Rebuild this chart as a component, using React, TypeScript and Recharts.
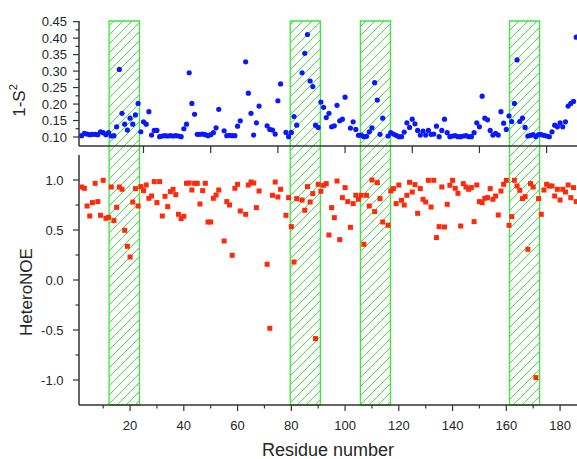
import React from "react";
import { ScatterChart, Scatter, XAxis, YAxis, ReferenceArea, Label } from "recharts";

// ── data ────────────────────────────────────────────────────────────────────
// order parameter panel (1-S²)
const S2_RES = [
  2, 3, 4, 5, 6, 7, 8, 9, 10, 11, 12, 13, 14, 15, 16, 17, 18, 19, 20, 21, 22, 23, 24, 25, 26, 27, 28, 29, 30,
  31, 32, 33, 34, 35, 36, 37, 38, 39, 40, 41, 42, 43, 44, 45, 46, 47, 48, 49, 50, 51, 52, 53, 55, 56, 57, 58,
  59, 60, 61, 63, 64, 65, 66, 67, 68, 71, 72, 73, 74, 75, 76, 78, 79, 80, 81, 82, 84, 85, 86, 87, 88, 89, 90,
  91, 92, 93, 94, 95, 96, 97, 98, 99, 100, 102, 103, 104, 105, 106, 107, 108, 109, 110, 111, 112, 113, 114,
  116, 117, 118, 119, 120, 121, 122, 123, 124, 125, 126, 127, 128, 129, 130, 131, 132, 133, 134, 135, 136,
  137, 138, 139, 140, 141, 142, 143, 144, 145, 146, 147, 148, 149, 150, 151, 152, 153, 154, 155, 156, 157,
  158, 159, 160, 161, 162, 163, 164, 165, 166, 167, 168, 169, 170, 171, 172, 173, 174, 175, 176, 177, 178,
  179, 180, 181, 182, 183, 184, 185, 186,
];
const S2_VAL = [
  0.104, 0.111, 0.109, 0.107, 0.108, 0.108, 0.107, 0.116, 0.113, 0.107, 0.113, 0.103, 0.104, 0.131, 0.305,
  0.172, 0.139, 0.121, 0.157, 0.139, 0.167, 0.202, 0.116, 0.146, 0.139, 0.177, 0.106, 0.12, 0.12, 0.101,
  0.103, 0.104, 0.103, 0.104, 0.103, 0.104, 0.103, 0.101, 0.125, 0.139, 0.295, 0.202, 0.169, 0.108, 0.108,
  0.109, 0.107, 0.104, 0.107, 0.113, 0.128, 0.184, 0.119, 0.104, 0.105, 0.104, 0.104, 0.133, 0.149, 0.328,
  0.233, 0.172, 0.106, 0.143, 0.194, 0.134, 0.123, 0.121, 0.109, 0.21, 0.261, 0.114, 0.101, 0.114, 0.162,
  0.136, 0.295, 0.354, 0.411, 0.27, 0.253, 0.136, 0.129, 0.206, 0.19, 0.159, 0.172, 0.131, 0.134, 0.196,
  0.149, 0.154, 0.221, 0.127, 0.146, 0.123, 0.105, 0.106, 0.101, 0.102, 0.116, 0.128, 0.265, 0.212, 0.108,
  0.157, 0.103, 0.113, 0.109, 0.105, 0.101, 0.101, 0.115, 0.143, 0.129, 0.154, 0.14, 0.12, 0.106, 0.118,
  0.106, 0.12, 0.108, 0.109, 0.133, 0.101, 0.12, 0.154, 0.113, 0.101, 0.103, 0.104, 0.101, 0.101, 0.103,
  0.104, 0.101, 0.101, 0.113, 0.143, 0.131, 0.224, 0.157, 0.152, 0.12, 0.106, 0.111, 0.106, 0.177, 0.142,
  0.123, 0.164, 0.147, 0.202, 0.334, 0.147, 0.157, 0.129, 0.103, 0.105, 0.107, 0.101, 0.107, 0.107, 0.105,
  0.103, 0.101, 0.116, 0.136, 0.131, 0.143, 0.131, 0.146, 0.194, 0.202, 0.208, 0.403,
];

// heteronuclear NOE panel
const NOE_RES = [
  2, 3, 4, 5, 6, 7, 8, 9, 10, 11, 12, 13, 14, 15, 16, 17, 18, 19, 20, 21, 22, 23, 24, 25, 26, 27, 28, 29, 30,
  31, 32, 33, 34, 35, 36, 37, 38, 39, 40, 41, 42, 43, 44, 45, 46, 47, 48, 49, 50, 51, 52, 53, 55, 56, 57, 58,
  59, 60, 61, 63, 64, 65, 66, 67, 68, 71, 72, 73, 74, 75, 76, 78, 79, 80, 81, 82, 84, 85, 86, 87, 88, 89, 90,
  91, 92, 93, 94, 95, 96, 97, 98, 99, 100, 101, 102, 103, 104, 105, 106, 107, 108, 109, 110, 111, 112, 113,
  114, 116, 117, 118, 119, 120, 121, 122, 123, 124, 125, 126, 127, 128, 129, 130, 131, 132, 133, 134, 135,
  136, 137, 138, 139, 140, 141, 142, 143, 144, 145, 146, 147, 148, 149, 150, 151, 152, 153, 154, 155, 156,
  157, 158, 159, 160, 161, 162, 163, 164, 165, 166, 167, 168, 169, 170, 171, 172, 173, 174, 175, 176, 177,
  178, 179, 180, 181, 182, 183, 184, 185, 186,
];
const NOE_VAL = [
  0.93, 0.917, 0.74, 0.64, 0.774, 0.967, 0.784, 0.647, 0.997, 0.617, 0.627, 0.93, 0.594, 0.727, 0.93, 0.907,
  0.497, 0.337, 0.23, 0.78, 0.914, 0.74, 0.934, 0.894, 0.95, 0.817, 0.84, 0.984, 0.774, 0.984, 0.64, 0.837,
  0.734, 0.884, 0.907, 0.854, 0.657, 0.614, 0.637, 0.967, 0.97, 0.9, 0.967, 0.967, 0.76, 0.894, 0.967, 0.58,
  0.58, 0.817, 0.85, 0.9, 0.39, 0.784, 0.75, 0.247, 0.917, 0.957, 0.69, 0.657, 0.95, 0.98, 0.97, 0.724, 0.89,
  0.157, -0.483, 0.847, 0.98, 0.83, 0.907, 0.647, 0.824, 0.534, 0.18, 0.814, 0.8, 0.697, 0.934, 0.78, 0.864,
  -0.586, 0.957, 0.887, 0.947, 0.964, 0.45, 0.724, 0.624, 0.99, 0.404, 0.824, 0.924, 0.784, 0.527, 0.764,
  0.847, 0.807, 0.847, 0.357, 0.847, 0.74, 1.0, 0.684, 0.974, 0.814, 0.58, 0.547, 0.89, 0.914, 0.764, 0.95,
  0.797, 0.75, 0.847, 0.977, 0.88, 0.954, 0.667, 0.914, 0.807, 0.78, 0.997, 0.73, 0.997, 0.424, 0.534, 0.93,
  0.53, 0.757, 0.947, 0.997, 0.917, 0.867, 0.54, 0.964, 0.93, 0.907, 0.924, 0.584, 0.95, 0.784, 0.774, 0.817,
  0.824, 0.914, 0.807, 0.84, 0.65, 0.89, 0.957, 0.997, 0.547, 0.634, 0.997, 0.94, 0.897, 0.814, 0.834, 0.307,
  0.964, 0.93, -0.976, 0.814, 0.657, 0.9, 0.957, 0.94, 0.94, 0.84, 0.907, 0.8, 0.907, 0.88, 0.95, 0.824,
  0.924, 0.784,
];

// shaded (hatched) residue ranges
const BAND_START = [12.2, 79.6, 105.7, 161.2];
const BAND_END = [23.5, 90.8, 116.9, 172.4];

// axis ticks
const X_MAJOR = [20, 40, 60, 80, 100, 120, 140, 160, 180];
const X_MINOR = [10, 30, 50, 70, 90, 110, 130, 150, 170];
const X_TOP_TICKS = [25, 50, 75, 100, 125, 150, 175];
const S2_MAJOR = [0.1, 0.15, 0.2, 0.25, 0.3, 0.35, 0.4, 0.45];
const S2_MINOR = [0.125, 0.175, 0.225, 0.275, 0.325, 0.375, 0.425];
const NOE_MAJOR = [-1, -0.5, 0, 0.5, 1];
const NOE_MINOR = [-0.75, -0.25, 0.25, 0.75];

const X_DOMAIN: [number, number] = [1, 186.3];
const S2_DOMAIN: [number, number] = [0.0727, 0.452];
const NOE_DOMAIN: [number, number] = [-1.25, 1.25];

// ── layout ──────────────────────────────────────────────────────────────────
const W = 577;
const H = 459;
const PLOT_LEFT = 79;
const TOP_PLOT_TOP = 21;
const TOP_PLOT_BOTTOM = 146;
const BOT_PLOT_TOP = 155;
const BOT_PLOT_BOTTOM = 405;

const FONT = '"Liberation Sans", Arial, sans-serif';
const INK = "#333";
const TXT = "#262626";
const HATCH = "#3fe43f";

// the bands run from the bottom axis up to the top of the upper panel
const NOE_PER_PX = (NOE_DOMAIN[1] - NOE_DOMAIN[0]) / (BOT_PLOT_BOTTOM - BOT_PLOT_TOP);
const BAND_TOP = NOE_DOMAIN[1] + (BOT_PLOT_TOP - TOP_PLOT_TOP) * NOE_PER_PX;

const s2Data = S2_RES.map((res, i) => ({ res, v: S2_VAL[i] }));
const noeData = NOE_RES.map((res, i) => ({ res, v: NOE_VAL[i] }));

// ── marks ───────────────────────────────────────────────────────────────────
const BlueDot = (p: any) => <circle cx={p.cx} cy={p.cy} r={2.6} fill="#0a18ff" />;
const RedSquare = (p: any) => (
  <rect x={p.cx - 2.5} y={p.cy - 2.5} width={5} height={5} fill="#ff2a0a" />
);

// ── ticks ───────────────────────────────────────────────────────────────────
function S2Tick(props: any) {
  const { y, payload } = props;
  const major = S2_MAJOR.includes(payload.value);
  return (
    <g>
      <line x1={PLOT_LEFT} x2={PLOT_LEFT - (major ? 6 : 3.5)} y1={y} y2={y} stroke={INK} strokeWidth={1.2} />
      {major && (
        <text x={PLOT_LEFT - 12} y={y} dy="0.36em" textAnchor="end" fontSize={13} fontFamily={FONT} fill={TXT}>
          {payload.value.toFixed(2)}
        </text>
      )}
    </g>
  );
}

function NoeTick(props: any) {
  const { y, payload } = props;
  const major = NOE_MAJOR.includes(payload.value);
  return (
    <g>
      <line x1={PLOT_LEFT} x2={PLOT_LEFT - (major ? 6 : 3.5)} y1={y} y2={y} stroke={INK} strokeWidth={1.2} />
      {major && (
        <text x={PLOT_LEFT - 15.5} y={y} dy="0.36em" textAnchor="end" fontSize={13} fontFamily={FONT} fill={TXT}>
          {payload.value.toFixed(1)}
        </text>
      )}
    </g>
  );
}

function ResTick(props: any) {
  const { x, payload } = props;
  const major = X_MAJOR.includes(payload.value);
  return (
    <g>
      <line x1={x} x2={x} y1={BOT_PLOT_BOTTOM} y2={BOT_PLOT_BOTTOM + (major ? 6 : 3.5)} stroke={INK} strokeWidth={1.2} />
      {major && (
        <text x={x} y={BOT_PLOT_BOTTOM + 25} textAnchor="middle" fontSize={13} fontFamily={FONT} fill={TXT}>
          {payload.value}
        </text>
      )}
    </g>
  );
}

function TopResTick(props: any) {
  const { x } = props;
  return <line x1={x} x2={x} y1={TOP_PLOT_BOTTOM} y2={TOP_PLOT_BOTTOM + 7} stroke={INK} strokeWidth={1.2} />;
}

// ── axis titles ─────────────────────────────────────────────────────────────
const S2Title = (p: any) => {
  const vb = p.viewBox;
  const cx = vb.x + 25;
  const cy = vb.y + vb.height / 2 + 17;
  return (
    <text x={cx} y={cy} transform={`rotate(-90 ${cx} ${cy})`} textAnchor="middle" fontSize={17} fontFamily={FONT} fill={TXT}>
      1-S<tspan fontSize={11} dy={-8}>2</tspan>
    </text>
  );
};

const NoeTitle = (p: any) => {
  const vb = p.viewBox;
  const cx = vb.x + 32;
  const cy = vb.y + vb.height / 2 + 12;
  return (
    <text x={cx} y={cy} transform={`rotate(-90 ${cx} ${cy})`} textAnchor="middle" fontSize={17} fontFamily={FONT} fill={TXT}>
      HeteroNOE
    </text>
  );
};

const ResTitle = (p: any) => {
  const vb = p.viewBox;
  return (
    <text x={vb.x + vb.width / 2} y={vb.y + 51} textAnchor="middle" fontSize={18} fontFamily={FONT} fill={TXT}>
      Residue number
    </text>
  );
};

const axisLine = { stroke: INK, strokeWidth: 1.5 };

export default function App() {
  return (
    <div style={{ position: "absolute", left: 0, top: 0, width: W, height: H, background: "#fff", overflow: "hidden" }}>
      {/* lower panel, also carries the hatched bands across both panels */}
      <div style={{ position: "absolute", left: 0, top: 0 }}>
        <ScatterChart width={W} height={H} margin={{ top: BOT_PLOT_TOP, right: 0, bottom: 0, left: 0 }}>
          <defs>
            <pattern id="hatch" patternUnits="userSpaceOnUse" width={9} height={9}>
              <path d="M0,9 L9,0 M-2,2 L2,-2 M7,11 L11,7" stroke={HATCH} strokeWidth={1} />
            </pattern>
          </defs>
          <XAxis
            type="number"
            dataKey="res"
            domain={X_DOMAIN}
            allowDataOverflow
            ticks={[...X_MINOR, ...X_MAJOR]}
            interval={0}
            tick={ResTick}
            tickLine={false}
            axisLine={axisLine}
            height={H - BOT_PLOT_BOTTOM}
          >
            <Label content={ResTitle} />
          </XAxis>
          <YAxis
            type="number"
            dataKey="v"
            domain={NOE_DOMAIN}
            allowDataOverflow
            ticks={[...NOE_MINOR, ...NOE_MAJOR]}
            interval={0}
            tick={NoeTick}
            tickLine={false}
            axisLine={axisLine}
            width={PLOT_LEFT}
          >
            <Label content={NoeTitle} />
          </YAxis>
          {BAND_START.map((x1, i) => (
            <ReferenceArea
              key={i}
              x1={x1}
              x2={BAND_END[i]}
              y1={NOE_DOMAIN[0]}
              y2={BAND_TOP}
              ifOverflow="visible"
              fill="url(#hatch)"
              fillOpacity={1}
              stroke={HATCH}
              strokeWidth={1.3}
            />
          ))}
          <Scatter data={noeData} shape={RedSquare} isAnimationActive={false} />
        </ScatterChart>
      </div>

      {/* upper panel */}
      <div style={{ position: "absolute", left: 0, top: 0 }}>
        <ScatterChart width={W} height={H} margin={{ top: TOP_PLOT_TOP, right: 0, bottom: 0, left: 0 }}>
          <XAxis
            type="number"
            dataKey="res"
            domain={X_DOMAIN}
            allowDataOverflow
            ticks={X_TOP_TICKS}
            interval={0}
            tick={TopResTick}
            tickLine={false}
            axisLine={axisLine}
            height={H - TOP_PLOT_BOTTOM}
          />
          <YAxis
            type="number"
            dataKey="v"
            domain={S2_DOMAIN}
            allowDataOverflow
            ticks={[...S2_MINOR, ...S2_MAJOR]}
            interval={0}
            tick={S2Tick}
            tickLine={false}
            axisLine={axisLine}
            width={PLOT_LEFT}
          >
            <Label content={S2Title} />
          </YAxis>
          <Scatter data={s2Data} shape={BlueDot} isAnimationActive={false} />
        </ScatterChart>
      </div>
    </div>
  );
}
